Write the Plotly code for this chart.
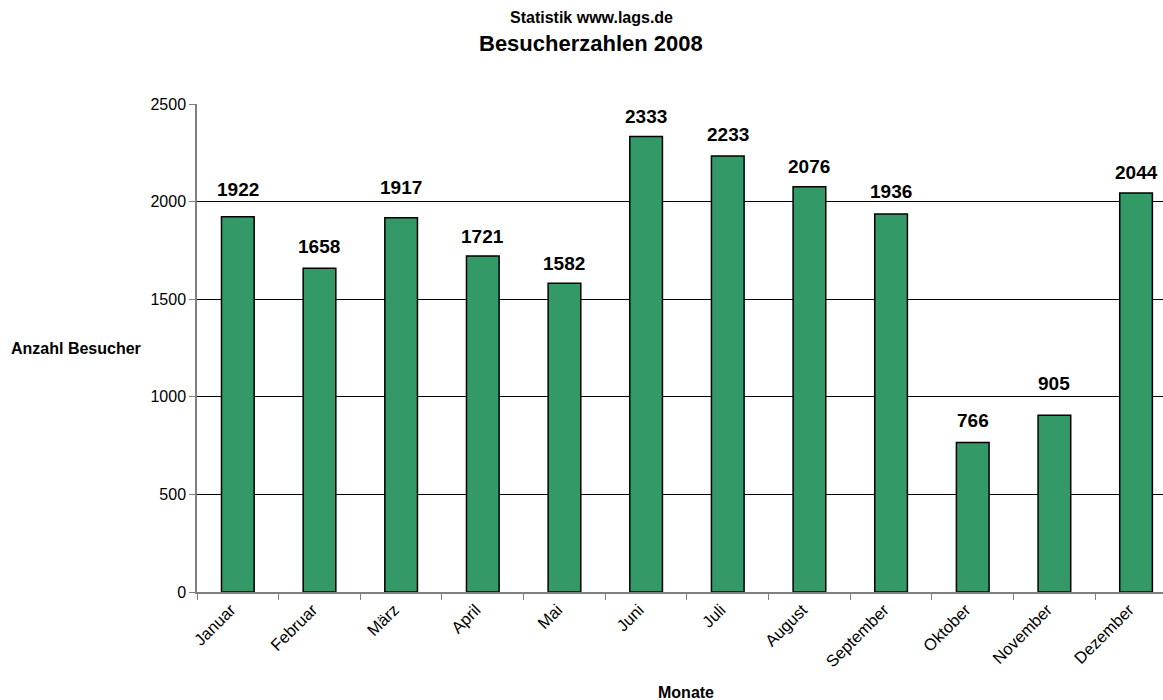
import plotly.graph_objects as go

months = ["Januar", "Februar", "März", "April", "Mai", "Juni", "Juli",
          "August", "September", "Oktober", "November", "Dezember"]
visitors = [1922, 1658, 1917, 1721, 1582, 2333, 2233, 2076, 1936, 766, 905, 2044]
y_ticks = [0, 500, 1000, 1500, 2000, 2500]

# styling: pixel gap between bar top and value label baseline
label_gap_px = [20, 14, 23, 12, 12, 13, 14, 13, 15, 14, 24, 13]

FONT = "Liberation Sans, Arial, sans-serif"

fig = go.Figure()
fig.add_trace(go.Bar(
    x=months, y=visitors,
    width=0.4,
    marker=dict(color="#339966", line=dict(color="black", width=1.5)),
    cliponaxis=False,
))

fig.update_layout(
    width=1163, height=700,
    paper_bgcolor="white", plot_bgcolor="white",
    margin=dict(l=197, r=0, t=104, b=108),
    showlegend=False,
    font=dict(family=FONT, size=16, color="black"),
)
fig.update_xaxes(
    type="category",
    range=[-0.5, 11.33],
    tickangle=-45,
    tickson="boundaries",
    ticklabelshift=-7,
    ticks="outside", ticklen=6, tickcolor="#808080",
    showline=True, linecolor="#808080", linewidth=1.5,
    showgrid=False,
    tickfont=dict(family=FONT, size=16.5, color="black"),
)
fig.update_yaxes(
    range=[0, 2500],
    tickvals=y_ticks,
    ticks="outside", ticklen=6, tickcolor="#808080",
    showline=True, linecolor="#808080", linewidth=1.5,
    showgrid=True, gridcolor="black", gridwidth=1,
    zeroline=False,
    tickfont=dict(family=FONT, size=16, color="black"),
)

# value labels above bars
for m, v, g in zip(months, visitors, label_gap_px):
    fig.add_annotation(
        x=m, y=v, xref="x", yref="y", text=f"<b>{v}</b>",
        showarrow=False, xanchor="center", yanchor="bottom",
        yshift=g - 5,
        font=dict(family=FONT, size=19, color="black"),
    )

anns = [
    dict(text="<b>Statistik www.lags.de</b>", x=591, y=18, size=16),
    dict(text="<b>Besucherzahlen 2008</b>", x=591, y=43, size=22),
    dict(text="<b>Anzahl Besucher</b>", x=76, y=348, size=16),
    dict(text="<b>Monate</b>", x=686, y=692, size=16),
]
for a in anns:
    fig.add_annotation(
        text=a["text"],
        xref="paper", yref="paper",
        x=(a["x"] - 197) / (1163 - 197),
        y=(592 - a["y"]) / (592 - 104),
        xanchor="center", yanchor="middle", showarrow=False,
        font=dict(family=FONT, size=a["size"], color="black"),
    )

fig.write_html(
    "out.html",
    config={"displayModeBar": False},
    post_script="document.body.style.margin='0';document.body.style.overflow='hidden';",
)
